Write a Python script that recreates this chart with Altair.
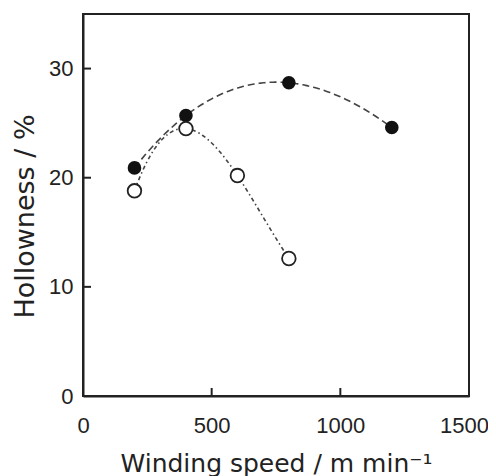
import altair as alt
import pandas as pd

# Data
speed_filled = [200, 400, 800, 1200]
hollow_filled = [20.9, 25.7, 28.7, 24.6]
speed_open = [200, 400, 600, 800]
hollow_open = [18.8, 24.5, 20.2, 12.6]

x_tick_labels = [0, 500, 1000, 1500]
y_tick_labels = [0, 10, 20, 30]
x_inner_ticks = [500, 1000]
y_inner_ticks = [10, 20, 30]

df_f = pd.DataFrame({"speed": speed_filled, "hollow": hollow_filled})
df_o = pd.DataFrame({"speed": speed_open, "hollow": hollow_open})
df_xt = pd.DataFrame({"speed": x_inner_ticks})
df_yt = pd.DataFrame({"hollow": y_inner_ticks})

W, H = 386, 382
LFONT = "Liberation Sans"
TFONT = "DejaVu Sans"
INK = "#222222"

xscale = alt.Scale(domain=[0, 1500], nice=False, zero=False)
yscale = alt.Scale(domain=[0, 35], nice=False, zero=False)

x_axis = alt.Axis(
    values=x_tick_labels, format="d", title="Winding speed / m min\u207b\u00b9",
    grid=False, ticks=False, tickSize=0, labelPadding=19, labelFlush=False,
    labelOffset=alt.condition("datum.value == 1500", alt.value(-5), alt.value(0)),
    domainWidth=2, domainColor=INK, labelFont=LFONT, labelFontSize=22, labelColor=INK,
    titleFont=TFONT, titleFontSize=25, titleFontWeight="normal", titleColor=INK,
    titlePadding=15,
)
y_axis = alt.Axis(
    values=y_tick_labels, format="d", title="Hollowness / %",
    grid=False, ticks=False, tickSize=0, labelPadding=10, labelFlush=False,
    domainWidth=2, domainColor=INK, labelFont=LFONT, labelFontSize=22, labelColor=INK,
    titleFont=TFONT, titleFontSize=27, titleFontWeight="normal", titleColor=INK,
    titlePadding=9, titleY=202,
)

X = alt.X("speed:Q", scale=xscale, axis=x_axis)
Y = alt.Y("hollow:Q", scale=yscale, axis=y_axis)

curve_f = alt.Chart(df_f).transform_regression(
    "speed", "hollow", method="poly", order=3
).mark_line(color="#444444", strokeWidth=1.6, strokeDash=[7, 4]).encode(x=X, y=Y)

curve_o = alt.Chart(df_o).transform_regression(
    "speed", "hollow", method="poly", order=3
).mark_line(color="#444444", strokeWidth=1.6, strokeDash=[4, 3, 1.5, 3]).encode(x=X, y=Y)

pts_f = alt.Chart(df_f).mark_point(
    shape="circle", filled=True, color="#111111", size=185, opacity=1
).encode(x=X, y=Y)

pts_o = alt.Chart(df_o).mark_point(
    shape="circle", filled=False, fill="white", fillOpacity=1, stroke="#222222",
    strokeWidth=1.8, size=185, opacity=1
).encode(x=X, y=Y)

xticks = alt.Chart(df_xt).mark_rule(color=INK, strokeWidth=2).encode(
    x=X, y=alt.value(H), y2=alt.value(H - 8),
)
yticks = alt.Chart(df_yt).mark_rule(color=INK, strokeWidth=2).encode(
    y=Y, x=alt.value(0), x2=alt.value(8),
)

chart = alt.layer(curve_f, curve_o, xticks, yticks, pts_f, pts_o).properties(
    width=W, height=H,
    padding={"left": 75, "top": 6, "right": 19, "bottom": 80},
    autosize=alt.AutoSizeParams(type="none"),
    background="white",
).configure_view(stroke=INK, strokeWidth=2)

chart.save("out.html", embed_options={"renderer": "svg", "actions": False})
